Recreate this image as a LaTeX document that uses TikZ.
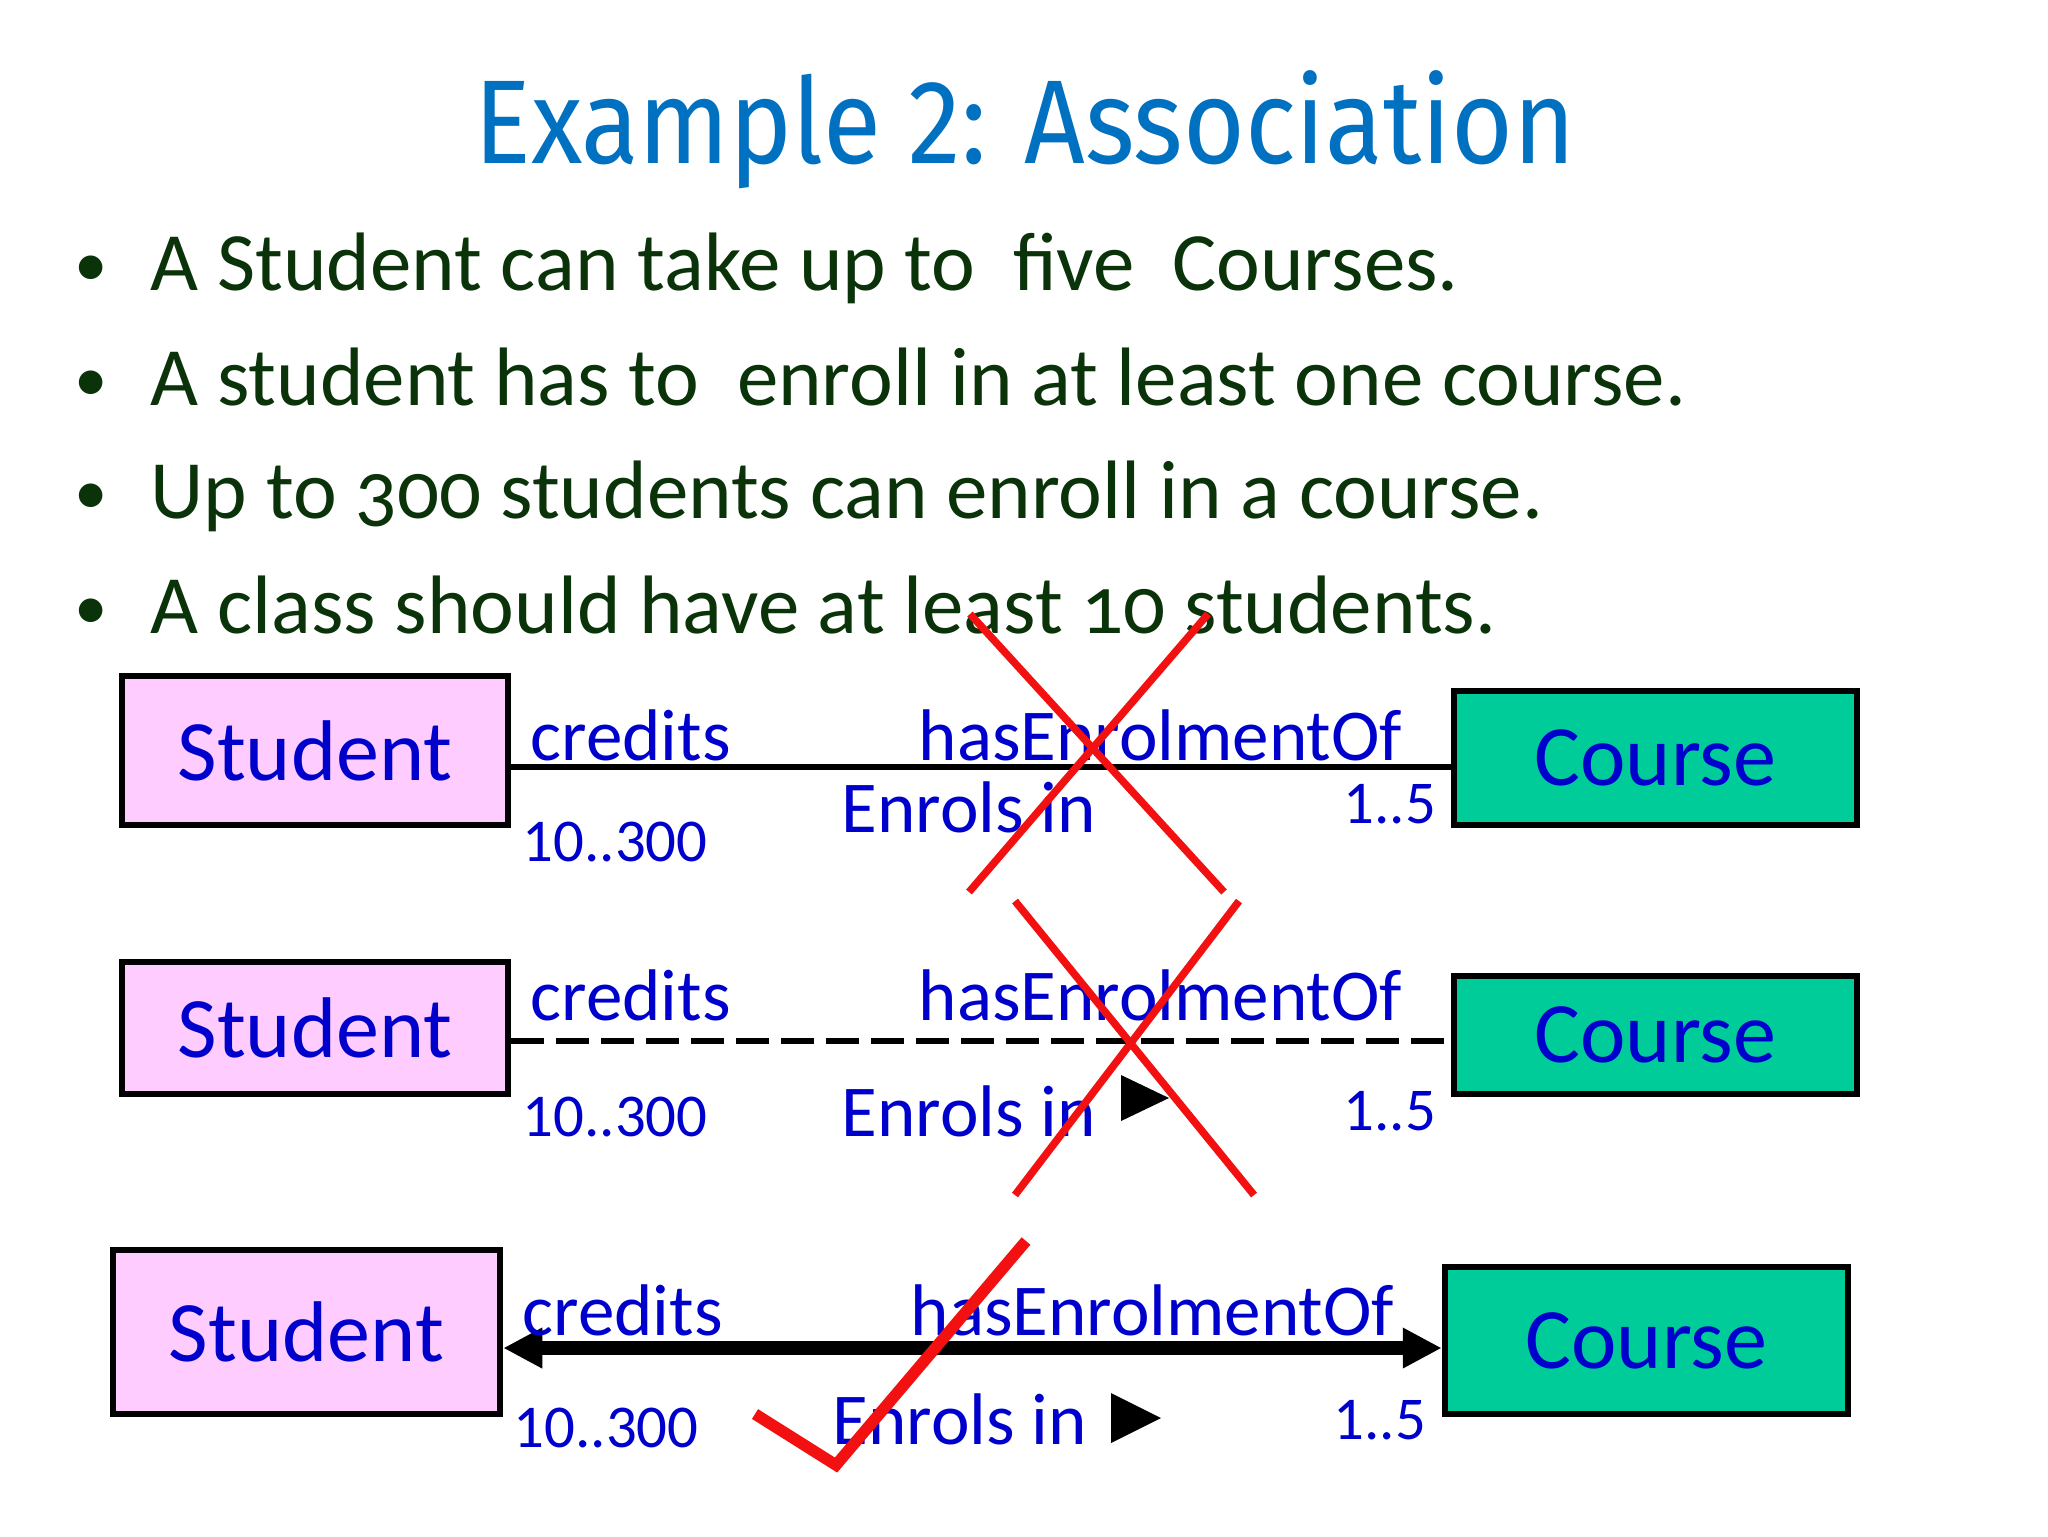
\documentclass[tikz,border=0pt]{standalone}
\usepackage{fontspec}
\setmainfont{Carlito}
\newfontfamily\titlefont[FakeStretch=0.89]{Fira Sans}
\newfontfamily\bulletfont[Numbers=OldStyle]{Carlito}
\usetikzlibrary{arrows.meta, calc}
\definecolor{titleblue}{HTML}{0070C0}
\definecolor{bulletgreen}{HTML}{0A330A}
\definecolor{lblblue}{HTML}{0000CC}
\definecolor{stupink}{HTML}{FFCCFF}
\definecolor{crsgreen}{HTML}{00CC99}
\definecolor{markred}{HTML}{F21010}
\newcommand{\dotmark}{\makebox[7.6mm][l]{\raisebox{1pt}{\fontsize{19}{20}\selectfont\textbullet}}}

\begin{document}
\begin{tikzpicture}[x=0.1mm, y=-0.1mm, >=Stealth,
  stubox/.style={draw, line width=0.65mm, fill=stupink, text=lblblue, inner sep=0pt,
    font=\fontsize{24.5}{28}\selectfont},
  crsbox/.style={stubox, fill=crsgreen},
  bulletline/.style={anchor=base west, inner sep=0pt, text=bulletgreen,
    font=\bulletfont\fontsize{23.6}{27}\selectfont},
  lbl/.style={anchor=base west, inner sep=0pt, text=lblblue,
    font=\fontsize{20.8}{24}\selectfont},
  mult/.style={lbl, font=\fontsize{17.3}{20}\selectfont},
  cross/.style={markred, line width=0.75mm}]
  \useasboundingbox[fill=white] (0,0) rectangle (2048,1536);

  % Nadpis
  \node[anchor=base, text=titleblue, inner sep=0pt, font=\titlefont\fontsize{33.9}{40}\selectfont]
    (title) at (1025,163) {Example 2: Association};

  % Odrážky
  \node[bulletline] (b1) at (74,290) {\dotmark A Student can take up to\ \ five\ \ Courses.};
  \node[bulletline] (b2) at (74,405) {\dotmark A student has to\ \ enroll in at least one course.};
  \node[bulletline] (b3) at (74,518) {\dotmark Up to 300 students can enroll in a course.};
  \node[bulletline] (b4) at (74,633) {\dotmark A class should have at least 10 students.};

  % 1. varianta -- plná čára
  \node[stubox, minimum width=38.6mm, minimum height=14.9mm] (stu1) at (315,750.5) {Student};
  \node[crsbox, minimum width=40.3mm, minimum height=13.4mm] (crs1) at (1655.5,758) {Course};
  \coordinate (j1) at (1000,767);
  \draw[line width=0.6mm] (stu1.east |- j1) -- (crs1.west |- j1);
  \node[lbl] (cr1) at (530,760) {credits};
  \node[lbl] (he1) at (918,760) {hasEnrolmentOf};
  \node[lbl] (en1) at (841,832) {Enrols in};
  \node[mult] (ms1) at (522,861) {10..300};
  \node[mult] (mc1) at (1343,823) {1..5};

  % 2. varianta -- čárkovaná
  \node[stubox, minimum width=38.6mm, minimum height=13.2mm] (stu2) at (315,1028) {Student};
  \node[crsbox, minimum width=40.3mm, minimum height=11.8mm] (crs2) at (1655.5,1035) {Course};
  \coordinate (j2) at (1000,1041);
  \draw[line width=0.6mm, dash pattern=on 3.3mm off 1.2mm] (stu2.east |- j2) -- (crs2.west |- j2);
  \node[lbl] (cr2) at (530,1020) {credits};
  \node[lbl] (he2) at (918,1020) {hasEnrolmentOf};
  \node[lbl] (en2) at (841,1136) {Enrols in};
  \node[mult] (ms2) at (522,1136) {10..300};
  \node[mult] (mc2) at (1343,1130) {1..5};
  \fill (1121,1075) -- (1169,1098) -- (1121,1121) -- cycle;

  % 3. varianta -- šipky na obou koncích
  \node[stubox, minimum width=38.7mm, minimum height=16.4mm] (stu3) at (306.5,1332) {Student};
  \node[crsbox, minimum width=40.3mm, minimum height=14.7mm] (crs3) at (1646.5,1340.5) {Course};
  \coordinate (j3) at (1000,1348);
  \draw[<->, line width=1.35mm, >={Triangle[length=3.9mm, width=3.8mm]}]
    (stu3.east |- j3) -- (crs3.west |- j3);
  \node[lbl] (cr3) at (522,1335) {credits};
  \node[lbl] (he3) at (910,1335) {hasEnrolmentOf};
  \node[lbl] (en3) at (832,1444) {Enrols in};
  \node[mult] (ms3) at (513,1447) {10..300};
  \node[mult] (mc3) at (1333,1439) {1..5};
  \fill (1111,1393) -- (1161,1418) -- (1111,1443) -- cycle;

  % Červené křížky a fajfka
  \draw[cross] (970,614) -- (1224,892);
  \draw[cross] (1208,614) -- (969,892);
  \draw[cross] (1015,901) -- (1254,1195);
  \draw[cross] (1239,901) -- (1015,1195);
  \draw[markred, line width=1.15mm] (755,1414) -- (836,1465) -- (1026,1241);
\end{tikzpicture}
\end{document}
